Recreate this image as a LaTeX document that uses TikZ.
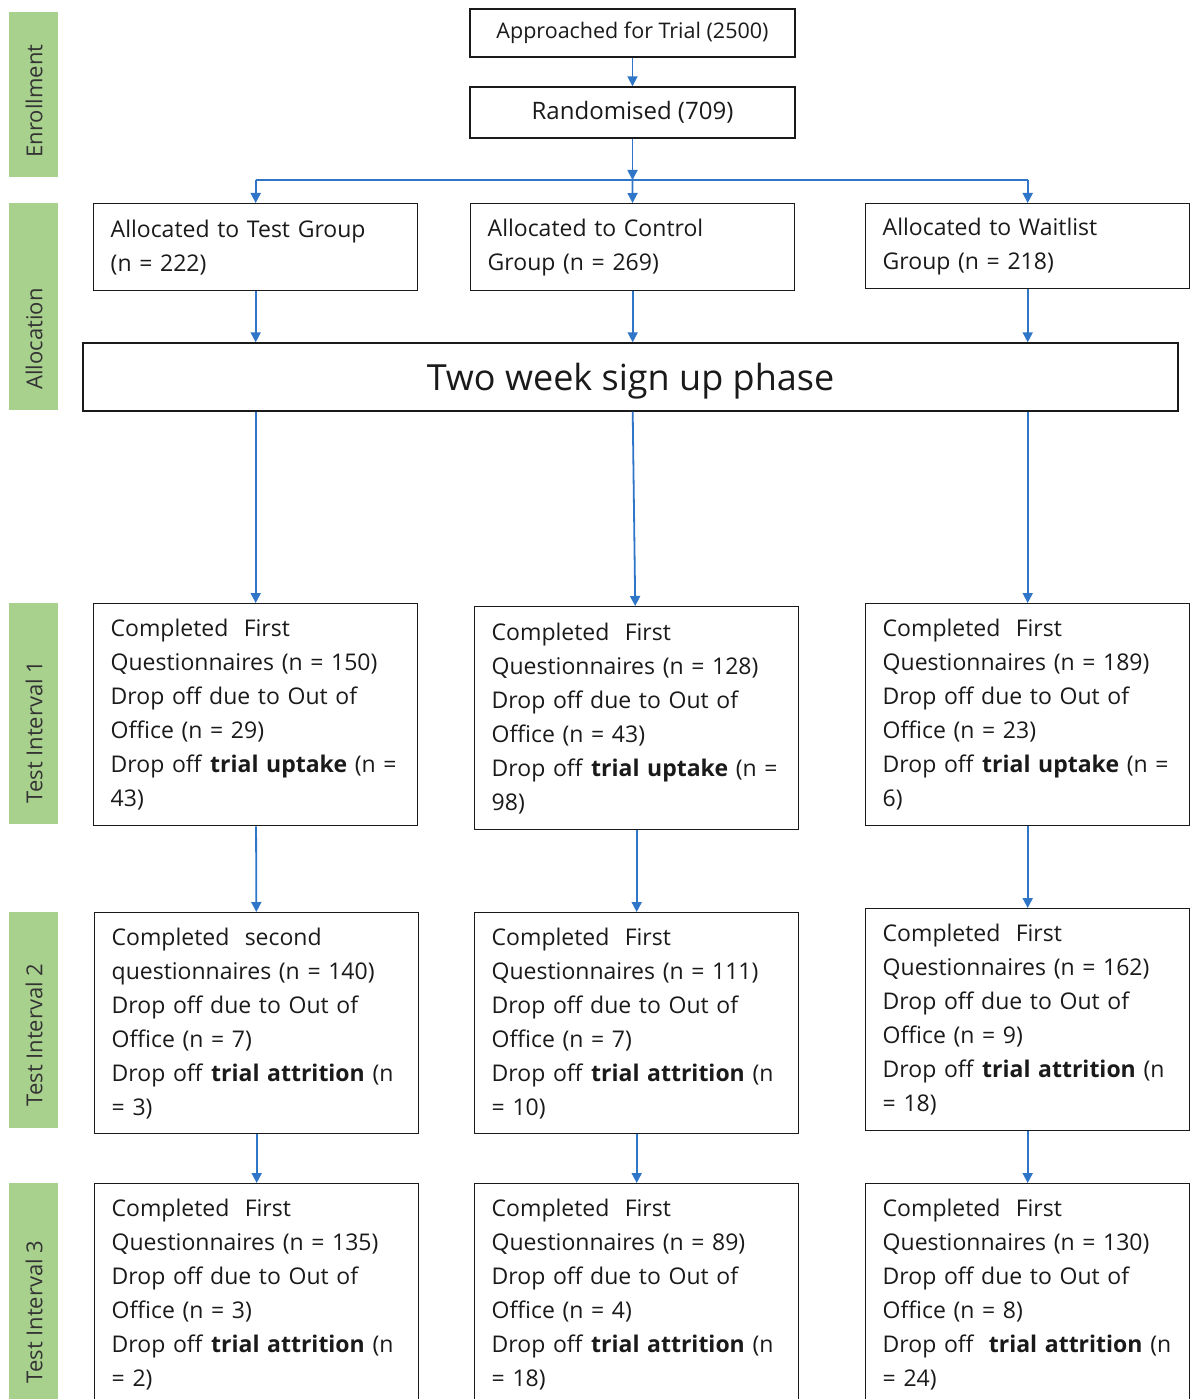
\documentclass[tikz,border=0pt]{standalone}
\usepackage{fontspec}
\setmainfont{Open Sans}
\usetikzlibrary{arrows.meta, calc}
\definecolor{sidegreen}{HTML}{A9D18E}
\definecolor{flowblue}{HTML}{2F75C8}
\definecolor{boxink}{HTML}{1A1A1A}
\definecolor{sideink}{HTML}{333333}
\tikzset{
  sidelbl/.style={rotate=90, font=\fontsize{22}{26}\selectfont, text=sideink},
  topbox/.style={draw=boxink, line width=1.4pt, align=center, minimum width=325pt,
    text=boxink, inner sep=0pt},
  gbox/.style={draw=boxink, line width=1.4pt, anchor=north west, align=left, text width=290pt,
    inner xsep=17pt, inner ysep=0pt, font=\fontsize{23}{34}\selectfont, text=boxink},
  phasebox/.style={draw=boxink, line width=1.4pt, minimum width=1095pt, minimum height=68pt,
    text depth=0pt, font=\fontsize{36}{40}\selectfont, text=boxink},
  flow/.style={-{Triangle[length=10pt, width=10pt]}, draw=flowblue, line width=1.8pt},
  rail/.style={draw=flowblue, line width=1.8pt}
}
\begin{document}
\begin{tikzpicture}[x=1pt, y=-1pt]
\useasboundingbox (0,0) rectangle (1195,1399);
\fill[white] (0,0) rectangle (1195,1399);
% phase bars
\fill[sidegreen] (9,12) rectangle (58,177);
\fill[sidegreen] (9,203) rectangle (58,410);
\fill[sidegreen] (9,603) rectangle (58,824);
\fill[sidegreen] (9,912) rectangle (58,1128);
\fill[sidegreen] (9,1183) rectangle (58,1420);
\node[sidelbl] (lenr) at (34,101) {Enrollment};
\node[sidelbl] (lalloc) at (34,339) {Allocation};
\node[sidelbl] (lint1) at (34,732) {Test Interval 1};
\node[sidelbl] (lint2) at (34,1035) {Test Interval 2};
\node[sidelbl] (lint3) at (34,1312) {Test Interval 3};
% enrollment
\node[topbox, minimum height=48pt, font=\fontsize{21.5}{26}\selectfont] (appr) at (632.5,33) {Approached for Trial (2500)};
\node[topbox, minimum height=51pt, font=\fontsize{24}{28}\selectfont] (rand) at (632.5,112.5) {Randomised (709)};
\coordinate (split) at (632.5,180);
% allocation
\node[gbox, minimum height=87pt] (tgrp) at (93,203) {Allocated to Test Group\\(n = 222)};
\node[gbox, minimum height=87pt] (cgrp) at (470,203) {Allocated to Control\\Group (n = 269)};
\node[gbox, minimum height=85pt] (wgrp) at (865,203) {Allocated to Waitlist\\Group (n = 218)};
\node[phasebox] (phase) at (630.5,377) {Two week sign up phase};
% interval 1
\node[gbox, minimum height=222pt] (t1a) at (93,603) {Completed\ \ First\\Questionnaires~(n~=~150)\\Drop off due to Out of\\Office (n = 29)\\Drop off \textbf{trial uptake}~(n~=\\43)};
\node[gbox, minimum height=223pt] (t1b) at (474,606) {Completed\ \ First\\Questionnaires~(n~=~128)\\Drop off due to Out of\\Office (n = 43)\\Drop off \textbf{trial uptake}~(n~=\\98)};
\node[gbox, minimum height=222pt] (t1c) at (865,603) {Completed\ \ First\\Questionnaires~(n~=~189)\\Drop off due to Out of\\Office (n = 23)\\Drop off \textbf{trial uptake}~(n~=\\6)};
% interval 2
\node[gbox, minimum height=221pt] (t2a) at (94,912) {Completed\ \ second\\questionnaires~(n~=~140)\\Drop off due to Out of\\Office (n = 7)\\Drop off \textbf{trial attrition}~(n\\= 3)};
\node[gbox, minimum height=221pt] (t2b) at (474,912) {Completed\ \ First\\Questionnaires~(n~=~111)\\Drop off due to Out of\\Office (n = 7)\\Drop off \textbf{trial attrition}~(n\\= 10)};
\node[gbox, minimum height=222pt] (t2c) at (865,908) {Completed\ \ First\\Questionnaires~(n~=~162)\\Drop off due to Out of\\Office (n = 9)\\Drop off \textbf{trial attrition}~(n\\= 18)};
% interval 3
\node[gbox, minimum height=222pt] (t3a) at (94,1183) {Completed\ \ First\\Questionnaires~(n~=~135)\\Drop off due to Out of\\Office (n = 3)\\Drop off \textbf{trial attrition}~(n\\= 2)};
\node[gbox, minimum height=222pt] (t3b) at (474,1183) {Completed\ \ First\\Questionnaires~(n~=~89)\\Drop off due to Out of\\Office (n = 4)\\Drop off \textbf{trial attrition}~(n\\= 18)};
\node[gbox, minimum height=222pt] (t3c) at (865,1183) {Completed\ \ First\\Questionnaires~(n~=~130)\\Drop off due to Out of\\Office (n = 8)\\Drop~off\ \ \textbf{trial~attrition}~(n\\= 24)};
\draw[flow] (appr)--(rand); \draw[flow] (rand)--(split);
\draw[rail] (tgrp.north|-split)--(wgrp.north|-split);
\draw[flow] (tgrp.north|-split)--(tgrp); \draw[flow] (split)--(cgrp); \draw[flow] (wgrp.north|-split)--(wgrp);
\draw[flow] (tgrp)--(tgrp.south|-phase.north); \draw[flow] (cgrp)--(cgrp.south|-phase.north); \draw[flow] (wgrp)--(wgrp.south|-phase.north);
\draw[flow] (tgrp.south|-phase.south)--(t1a); \draw[flow] (cgrp.south|-phase.south)--(t1b); \draw[flow] (wgrp.south|-phase.south)--(t1c);
\draw[flow] (t1a)--(t2a); \draw[flow] (t1b)--(t2b); \draw[flow] (t1c)--(t2c);
\draw[flow] (t2a)--(t3a); \draw[flow] (t2b)--(t3b); \draw[flow] (t2c)--(t3c);
\end{tikzpicture}
\end{document}
